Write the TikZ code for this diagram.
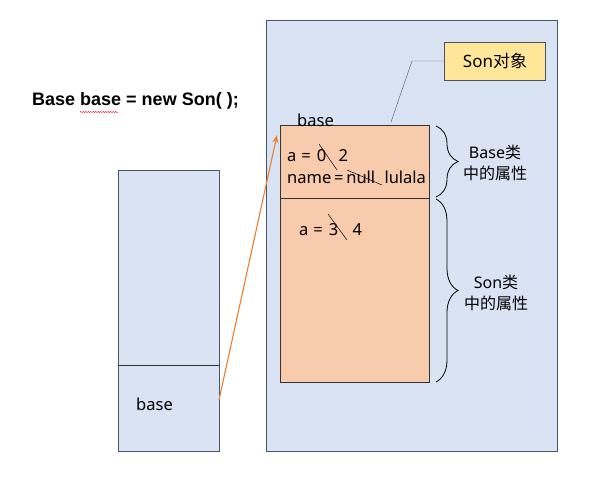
\documentclass[tikz,border=0pt]{standalone}
\usepackage{fontspec}
\setmainfont{Noto Sans}
\newfontfamily\cjk{Noto Sans CJK SC}
\newfontfamily\codefont{Liberation Sans}
\usetikzlibrary{arrows.meta,positioning,decorations.pathreplacing,decorations.pathmorphing}
\definecolor{boxedge}{RGB}{68,84,106}
\definecolor{heapfill}{RGB}{218,227,243}
\definecolor{objfill}{RGB}{248,203,173}
\definecolor{tagfill}{RGB}{255,230,153}
\definecolor{refline}{RGB}{237,125,49}

\begin{document}
\begin{tikzpicture}[x=1pt, y=-1pt,
  font=\fontsize{16.5}{20}\selectfont,
  area/.style={draw=boxedge, fill=heapfill, anchor=north west, inner sep=0pt},
  obj/.style={draw=black!80, fill=objfill, anchor=north west, inner sep=0pt},
  tag/.style={draw=boxedge, fill=tagfill, inner sep=0pt, minimum width=101pt,
    minimum height=38pt, font=\fontsize{17}{20}\selectfont},
  txt/.style={anchor=base west, inner sep=0pt},
  note/.style={align=center, inner sep=0pt, font=\fontsize{16}{21}\selectfont},
  strike/.style={black, line width=0.5pt},
  brc/.style={decorate, decoration={brace, amplitude=22pt, aspect=0.5}, thick},
  arr/.style={-{Stealth[length=8pt, width=6pt]}, refline, line width=1.1pt}]
  \useasboundingbox (0,0) rectangle (599,478);
  % code line
  \node[txt, font=\codefont\fontsize{18}{20}\selectfont\bfseries] (code) at (32,106)
    {Base base = new Son( );};
  \draw[red, decorate, decoration={snake, amplitude=0.6pt, segment length=2.5pt}]
    (80,112) -- (119,112);
  % stack frame
  \node[area, minimum width=101pt, minimum height=281pt] (stack) at (118,170) {};
  \draw[black!80] (stack.west |- 0,365) -- (stack.east |- 0,365);
  \node[txt] (ref) at (136,410) {base};
  % heap and the object
  \node[area, minimum width=291pt, minimum height=431pt] (heap) at (266,20) {};
  \node[obj, minimum width=149pt, minimum height=257pt] (son) at (280,125) {};
  \draw[black!80] (son.west |- 0,198) -- (son.east |- 0,198);
  \node[txt] (name) at (297,127) {base};
  \node[txt] (fa) at (287,162) {a\hspace{5pt}=\hspace{6pt}0\hspace*{8pt} 2};
  \node[txt] (fname) at (287,184) {name\,=\,null\hspace*{5pt} lulala};
  \node[txt] (fb) at (299,236) {a\hspace{5pt}=\hspace{6pt}3\hspace*{10pt} 4};
  \draw[strike] (319,144) -- (337,170);
  \draw[strike] (347,170) -- (382,185);
  \draw[strike] (328,214) -- (347,240);
  % the object tag
  \node[tag] (label) at (495,61) {Son{\cjk 对象}};
  \coordinate (bend) at (412,61);
  \coordinate (hook) at (391,122);
  \draw[boxedge] (label.west) -- (bend) -- (hook);
  % braces
  \draw[brc] (436,126) -- (436,197);
  \draw[brc] (436,199) -- (436,382);
  \node[note] (nbase) at (495,163) {Base{\cjk 类}\\{\cjk 中的属性}};
  \node[note] (nson) at (496,293) {Son{\cjk 类}\\{\cjk 中的属性}};
  % reference
  \coordinate (from) at (219,400);
  \coordinate (to) at (277,135);
  \draw[arr] (from) -- (to);
\end{tikzpicture}
\end{document}
